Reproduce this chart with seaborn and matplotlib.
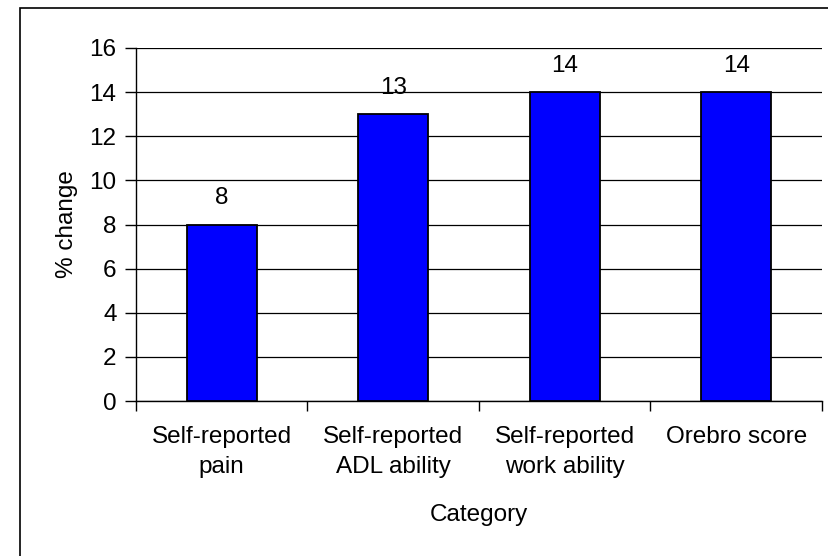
import matplotlib
matplotlib.use("Agg")
import matplotlib.pyplot as plt
import seaborn as sns
import pandas as pd
from matplotlib.patches import Rectangle
from matplotlib.ticker import FixedLocator

categories = ["Self-reported\npain", "Self-reported\nADL ability",
              "Self-reported\nwork ability", "Orebro score"]
values = [8, 13, 14, 14]
y_ticks = [0, 2, 4, 6, 8, 10, 12, 14, 16]

sns.set_theme(style="white")
plt.rcParams["font.family"] = ["Liberation Sans", "DejaVu Sans"]

FS = 17.5

df = pd.DataFrame({"Category": categories, "% change": values})

fig = plt.figure(figsize=(8.29, 5.56), dpi=100)
ax = fig.add_axes([136 / 829, 1 - 401 / 556, (822 - 136) / 829, (401 - 48) / 556])

sns.barplot(data=df, x="Category", y="% change", ax=ax, color="#0000FF",
            saturation=1, width=0.41, edgecolor="black", linewidth=1.3, zorder=3)

ax.set_ylim(0, 16)
ax.set_xlim(-0.5, len(categories) - 0.5)
ax.set_yticks(y_ticks)
ax.yaxis.grid(True, color="black", linewidth=0.9)
ax.set_axisbelow(True)

for spine in ["top", "right"]:
    ax.spines[spine].set_visible(False)
for spine in ["left", "bottom"]:
    ax.spines[spine].set_color("black")
    ax.spines[spine].set_linewidth(1.0)

# category separators as outward minor ticks
ax.xaxis.set_minor_locator(FixedLocator([i - 0.5 for i in range(len(categories) + 1)]))
ax.tick_params(axis="x", which="minor", direction="out", length=7, width=1, color="black", bottom=True)
ax.tick_params(axis="x", which="major", length=0, pad=18, labelsize=FS, labelcolor="black")
ax.tick_params(axis="y", direction="out", length=8, width=1, color="black", left=True,
               pad=6, labelsize=FS, labelcolor="black")
for lab in ax.get_xticklabels():
    lab.set_linespacing(1.5)

ax.set_xlabel("Category", fontsize=FS, color="black", labelpad=18)
ax.set_ylabel("% change", fontsize=FS, color="black", labelpad=8)

for i, v in enumerate(values):
    ax.annotate(f"{v}", (i, v), xytext=(0, 19), textcoords="offset points",
                ha="center", va="center", fontsize=FS, color="black")

# chart frame
fig.patches.append(Rectangle((20 / 829, -0.1), 1.2, 1 - 8 / 556 + 0.1,
                             transform=fig.transFigure, fill=False,
                             edgecolor="black", linewidth=1.2))

fig.savefig("out.png", dpi=100, facecolor="white")
